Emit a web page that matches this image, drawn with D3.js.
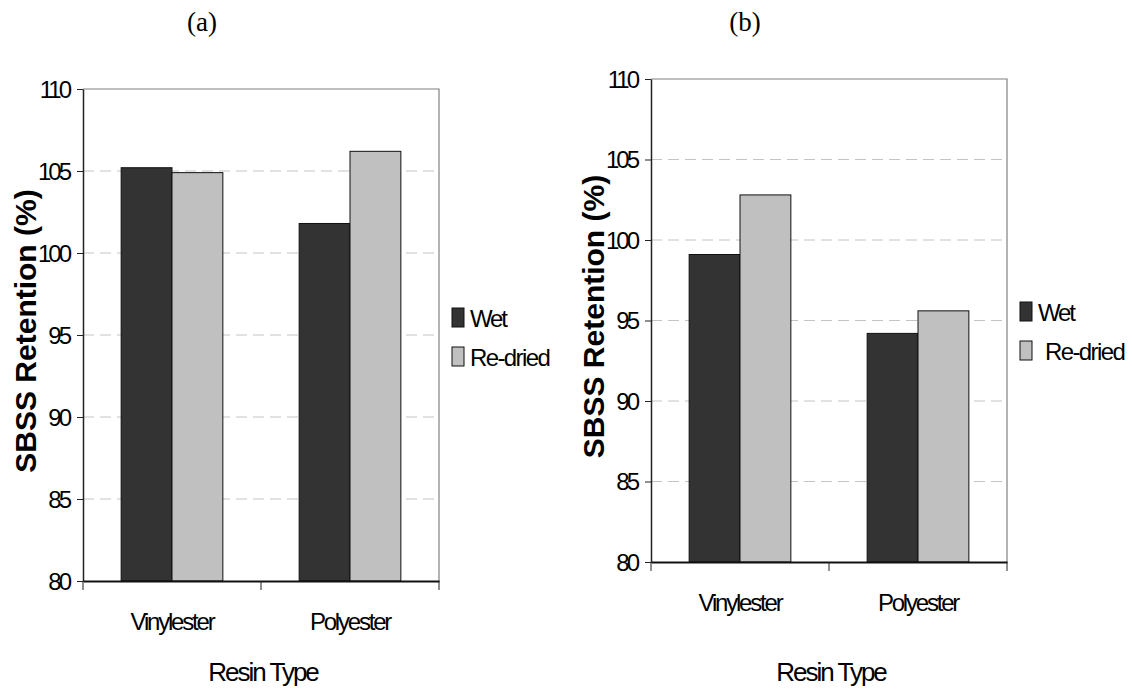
<!DOCTYPE html>
<html>
<head>
<meta charset="utf-8">
<script src="https://cdn.jsdelivr.net/npm/d3@7"></script>
<style>
  body { margin: 0; background: #fff; }
  text { font-family: 'Liberation Sans', Arial, sans-serif; fill: #000; }
</style>
</head>
<body>
<svg width="1132" height="693"></svg>
<script>
const categories = ['Vinylester', 'Polyester'];
const seriesNames = ['Wet', 'Re-dried'];
const wetA = [105.2, 101.8];
const rediedA = [104.9, 106.2];
const wetB = [99.1, 94.2];
const rediedB = [102.8, 95.6];
const yTicks = [80, 85, 90, 95, 100, 105, 110];
const colors = ['#333333', '#c0c0c0'];

const svg = d3.select('svg');

function drawPanel(opts) {
  const g = svg.append('g');
  const x = d3.scaleBand().domain(categories).range([opts.left, opts.right]);
  const xs = d3.scaleBand().domain(seriesNames).range([0, x.bandwidth()]).paddingOuter(0.75);
  const y = d3.scaleLinear().domain([80, 110]).range([opts.bottom, opts.top]);

  // grid lines
  g.selectAll('line.grid')
    .data(yTicks.filter((d) => d > 80 && d < 110))
    .join('line')
    .attr('x1', opts.left).attr('x2', opts.right)
    .attr('y1', (d) => y(d)).attr('y2', (d) => y(d))
    .attr('stroke', '#c4c4c4').attr('stroke-dasharray', '11,6');

  // frame top + right
  g.append('path')
    .attr('d', `M${opts.left},${opts.top}H${opts.right}V${opts.bottom}`)
    .attr('fill', 'none').attr('stroke', '#808080').attr('stroke-width', 1.2);

  const rows = categories.map((c, i) => ({ cat: c, vals: [opts.wet[i], opts.redried[i]] }));
  g.selectAll('g.cat')
    .data(rows)
    .join('g')
    .attr('transform', (d) => `translate(${x(d.cat)},0)`)
    .selectAll('rect')
    .data((d) => d.vals.map((v, j) => ({ s: seriesNames[j], v: v, j: j })))
    .join('rect')
    .attr('x', (d) => xs(d.s))
    .attr('width', xs.bandwidth())
    .attr('y', (d) => y(d.v))
    .attr('height', (d) => y(80) - y(d.v))
    .attr('fill', (d) => colors[d.j])
    .attr('stroke', '#111').attr('stroke-width', 1);

  // y axis
  const yAxis = g.append('g')
    .attr('transform', `translate(${opts.left},0)`)
    .call(d3.axisLeft(y).tickValues(yTicks).tickSize(6).tickSizeOuter(0).tickFormat(d3.format('d')));
  yAxis.select('.domain').attr('stroke', '#222').attr('stroke-width', 1.5);
  yAxis.selectAll('.tick line').attr('stroke', '#222');
  yAxis.selectAll('.tick text')
    .attr('x', -14).attr('dy', '0.35em')
    .attr('font-size', 24).attr('font-family', "'Liberation Sans', Arial, sans-serif")
    .style('letter-spacing', '-3px');

  // x axis
  const xAxis = g.append('g')
    .attr('transform', `translate(0,${opts.bottom})`)
    .call(d3.axisBottom(x).tickSize(0).tickSizeOuter(0));
  xAxis.select('.domain').attr('stroke', '#111').attr('stroke-width', 2);
  xAxis.selectAll('.tick text')
    .attr('y', 41).attr('dy', '0.35em')
    .attr('font-size', 24).attr('font-family', "'Liberation Sans', Arial, sans-serif")
    .style('letter-spacing', '-2.2px');
  // category separators
  g.selectAll('line.sep')
    .data(categories)
    .join('line')
    .attr('x1', (d) => x(d) + x.bandwidth()).attr('x2', (d) => x(d) + x.bandwidth())
    .attr('y1', opts.bottom).attr('y2', opts.bottom + 9)
    .attr('stroke', '#222');
  g.append('line')
    .attr('x1', opts.left).attr('x2', opts.left)
    .attr('y1', opts.bottom).attr('y2', opts.bottom + 9)
    .attr('stroke', '#222');

  // axis titles
  g.append('text')
    .attr('transform', `translate(${opts.titleX},${(opts.top + opts.bottom) / 2 - 4}) rotate(-90)`)
    .attr('text-anchor', 'middle').attr('dy', '0.35em')
    .attr('font-size', 30).attr('font-weight', 'bold')
    .text('SBSS Retention (%)');
  g.append('text')
    .attr('x', (opts.left + opts.right) / 2 + 2).attr('y', 681)
    .attr('text-anchor', 'middle')
    .attr('font-size', 26).style('letter-spacing', '-2px')
    .text('Resin Type');

  // panel label
  g.append('text')
    .attr('x', opts.labelX).attr('y', 31)
    .attr('text-anchor', 'middle')
    .attr('font-size', 27).style('font-family', "'Liberation Serif', 'Times New Roman', serif")
    .text(opts.label);

  // legend
  const lg = g.append('g').attr('transform', `translate(${opts.legX},${opts.legY})`);
  const items = lg.selectAll('g').data(seriesNames).join('g')
    .attr('transform', (d, i) => `translate(0,${i * 39})`);
  items.append('rect')
    .attr('width', 12).attr('height', 19)
    .attr('fill', (d, i) => colors[i]).attr('stroke', '#111');
  items.append('text')
    .attr('x', (d, i) => 18 + (i === 1 ? opts.legShift : 0)).attr('y', 19)
    .attr('font-size', 24).style('letter-spacing', (d, i) => (i === 0 ? '-2.2px' : '-1.6px'))
    .text((d) => d);
}

drawPanel({ left: 83, right: 439, top: 89, bottom: 581, wet: wetA, redried: rediedA,
  titleX: 25, label: '(a)', labelX: 202, legX: 452, legY: 308, legShift: 0 });
drawPanel({ left: 651, right: 1007, top: 79, bottom: 562, wet: wetB, redried: rediedB,
  titleX: 593, label: '(b)', labelX: 745, legX: 1020, legY: 302, legShift: 7 });
</script>
</body>
</html>
